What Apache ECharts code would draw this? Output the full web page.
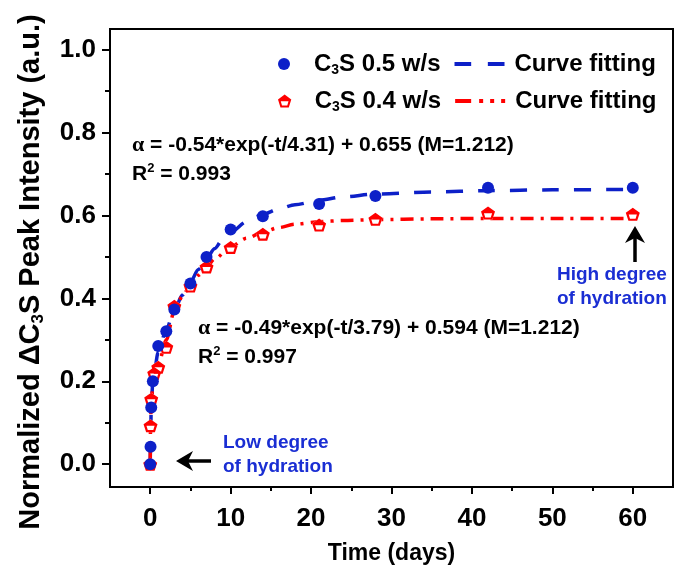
<!DOCTYPE html>
<html><head><meta charset="utf-8">
<script src="https://cdn.jsdelivr.net/npm/echarts@6/dist/echarts.min.js"></script>
<style>html,body{margin:0;padding:0;background:#fff}#c{width:699px;height:568px}</style>
</head><body><div id="c"></div>
<script>
// ---- data ----
const t05 = [0, 0.04, 0.125, 0.33, 1, 2, 3, 5, 7, 10, 14, 21, 28, 42, 60];
const v05 = [0, 0.042, 0.137, 0.2, 0.285, 0.321, 0.373, 0.436, 0.5, 0.566, 0.598, 0.628, 0.647, 0.667, 0.667];
const t04 = [0, 0.04, 0.125, 0.5, 1, 2, 3, 5, 7, 10, 14, 21, 28, 42, 60];
const v04 = [0, 0.093, 0.157, 0.219, 0.234, 0.282, 0.381, 0.43, 0.476, 0.523, 0.555, 0.577, 0.591, 0.606, 0.603];
// fitted curves
const fitT05 = [0, 0.04, 0.125, 0.33, 1, 2, 3, 4, 5, 6, 7, 8, 9, 10, 12, 14, 16, 18, 21, 24, 28, 35, 42, 50, 60];
const fit05  = [0, 0.042, 0.137, 0.2, 0.27, 0.325, 0.372, 0.408, 0.44, 0.47, 0.496, 0.52, 0.542, 0.56, 0.585, 0.603, 0.616, 0.626, 0.637, 0.645, 0.652, 0.657, 0.66, 0.662, 0.663];
const fitT04 = [0, 0.04, 0.125, 0.5, 1, 2, 3, 4, 5, 6, 7, 8, 10, 12, 14, 16, 18, 21, 24, 28, 35, 42, 50, 60];
const fit04  = [0, 0.093, 0.157, 0.219, 0.24, 0.3, 0.37, 0.405, 0.432, 0.456, 0.476, 0.495, 0.525, 0.545, 0.56, 0.571, 0.579, 0.585, 0.588, 0.59, 0.592, 0.593, 0.593, 0.593];
// ticks
const xMajor = [0, 10, 20, 30, 40, 50, 60];
const xMinor = [5, 15, 25, 35, 45, 55];
const yMajor = [0, 0.2, 0.4, 0.6, 0.8, 1.0];
const yMinor = [0.1, 0.3, 0.5, 0.7, 0.9];
// texts
const name05 = 'C3S 0.5 w/s', name04 = 'C3S 0.4 w/s';
const fitName05 = 'fit05', fitName04 = 'fit04';
const fitLabel = 'Curve fitting';
const xTitle = 'Time (days)';
const yTitle = ['Normalized ΔC', '3', 'S Peak Intensity (a.u.)'];
const eq05 = ['-0.54*exp(-t/4.31) + 0.655 (M=1.212)', '0.993'];
const eq04 = ['-0.49*exp(-t/3.79) + 0.594 (M=1.212)', '0.997'];
const noteLow = ['Low degree', 'of hydration'];
const noteHigh = ['High degree', 'of hydration'];

const BLUE = '#0d20c8', RED = '#ff0000', TBLUE = '#1a2ed3';
const FONT = 'Arial, "Liberation Sans", sans-serif';
const zip = (a, b) => a.map((v, i) => [v, b[i]]);
const PENT_RING = 'path://M50 2 L98 38 L80 96 L20 96 L2 38 Z M22 50 L31 81 L69 81 L78 50 Z';
const PENT_FULL = 'path://M50 2 L98 38 L80 96 L20 96 L2 38 Z';
const ICON_DASH = 'path://M0 0 H17 V4 H0 Z M34 0 H51 V4 H34 Z';
const ICON_DASHDOT = 'path://M0 0 H16 V4 H0 Z M24 0 H28 V4 H24 Z M35 0 H39 V4 H35 Z M46 0 H50 V4 H46 Z';

const chart = echarts.init(document.getElementById('c'), null, {renderer: 'canvas'});

function xAx(major) {
  return {
    type: 'value', min: -5, max: 65, position: 'bottom',
    axisLine: {show: major, onZero: false, lineStyle: {color: '#000', width: 2}},
    axisTick: {show: true, customValues: major ? xMajor : xMinor, length: major ? 7 : 4, lineStyle: {color: '#000', width: 2}},
    axisLabel: major ? {customValues: xMajor, fontSize: 26, fontWeight: 'bold', color: '#000', fontFamily: FONT, margin: 19} : {show: false},
    splitLine: {show: false},
    name: major ? xTitle : '', nameLocation: 'middle', nameGap: 55,
    nameTextStyle: {fontSize: 23, fontWeight: 'bold', color: '#000', fontFamily: FONT}
  };
}
function yAx(major) {
  return {
    type: 'value', min: -0.055, max: 1.05, position: 'left',
    axisLine: {show: major, onZero: false, lineStyle: {color: '#000', width: 2}},
    axisTick: {show: true, customValues: major ? yMajor : yMinor, length: major ? 8 : 5, lineStyle: {color: '#000', width: 2}},
    axisLabel: major ? {customValues: yMajor, fontSize: 26, fontWeight: 'bold', color: '#000', fontFamily: FONT, margin: 14,
      formatter: v => v.toFixed(1)} : {show: false},
    splitLine: {show: false}
  };
}

const legendText = {
  fontSize: 24, fontWeight: 'bold', color: '#000', fontFamily: FONT,
  rich: {n: {fontSize: 24, fontWeight: 'bold', fontFamily: FONT, color: '#000', lineHeight: 26},
         f: {fontSize: 24, fontWeight: 'bold', fontFamily: FONT, color: '#000', lineHeight: 26, padding: [0, 0, 0, 5]},
         s: {fontSize: 14, fontWeight: 'bold', fontFamily: FONT, color: '#000', lineHeight: 14, verticalAlign: 'bottom'}}
};
const legendFmt = n => n.startsWith('fit') ? '{f|' + fitLabel + '}' : '{n|C}{s|3}{n|S ' + n.slice(4) + '}';

function eqText(x, y, lines) {
  const base = {fontSize: 21, fontWeight: 'bold', fontFamily: FONT, fill: '#000'};
  return [
    {type: 'text', x: x, y: y, silent: true, style: Object.assign({}, base, {
      text: '{g|α}{n| = ' + lines[0] + '}', verticalAlign: 'middle',
      rich: {g: {fontSize: 22, fontWeight: 'bold', fontFamily: '"Liberation Serif", "DejaVu Serif", serif', lineHeight: 24},
             n: {fontSize: 21, fontWeight: 'bold', fontFamily: FONT, lineHeight: 24}}})},
    {type: 'text', x: x, y: y + 29, silent: true, style: Object.assign({}, base, {
      text: '{n|R}{p|2}{n| = ' + lines[1] + '}', verticalAlign: 'middle',
      rich: {n: {fontSize: 21, fontWeight: 'bold', fontFamily: FONT, lineHeight: 24},
             p: {fontSize: 13, fontWeight: 'bold', fontFamily: FONT, lineHeight: 14, verticalAlign: 'top'}}})}
  ];
}
function noteText(x, y, lines) {
  return lines.map((s, i) => ({type: 'text', x: x, y: y + i * 24, silent: true,
    style: {text: s, fontSize: 19, fontWeight: 'bold', fontFamily: FONT, fill: TBLUE, verticalAlign: 'middle'}}));
}

const option = {
  animation: false,
  backgroundColor: '#fff',
  grid: {left: 110, right: 26, top: 29, bottom: 81, show: true, borderColor: '#000', borderWidth: 2,
         backgroundColor: 'transparent', outerBoundsMode: 'none'},
  xAxis: [xAx(true), xAx(false)],
  yAxis: [yAx(true), yAx(false)],
  legend: [
    {data: [name05, {name: fitName05, icon: ICON_DASH}], left: 273, top: 47, itemWidth: 50, itemHeight: 12, itemGap: 14,
     selectedMode: false, formatter: legendFmt, textStyle: legendText},
    {data: [name04, {name: fitName04, icon: ICON_DASHDOT}], left: 273, top: 84, itemWidth: 50, itemHeight: 13, itemGap: 14,
     selectedMode: false, formatter: legendFmt, textStyle: legendText}
  ],
  series: [
    {name: fitName05, type: 'line', data: zip(fitT05, fit05), symbol: 'none', smooth: 0.3, smoothMonotone: 'x',
     lineStyle: {color: BLUE, width: 3.5, type: [17, 15]}, itemStyle: {color: BLUE}, z: 2},
    {name: fitName04, type: 'line', data: zip(fitT04, fit04), symbol: 'none', smooth: 0.3, smoothMonotone: 'x',
     lineStyle: {color: RED, width: 3.5, type: [13, 7, 3, 7]}, itemStyle: {color: RED}, z: 2},
    {name: '_under04', type: 'scatter', data: zip(t04, v04), symbol: PENT_FULL, symbolSize: [14, 13],
     itemStyle: {color: '#fff', opacity: 1}, silent: true, z: 3},
    {name: name04, type: 'scatter', data: zip(t04, v04), symbol: PENT_RING, symbolSize: [14, 13],
     itemStyle: {color: RED, opacity: 1}, z: 4},
    {name: name05, type: 'scatter', data: zip(t05, v05), symbol: 'circle', symbolSize: 12,
     itemStyle: {color: BLUE, opacity: 1}, z: 5}
  ],
  graphic: [].concat(
    [{type: 'text', x: 31, y: 272, rotation: Math.PI / 2, silent: true, style: {
      text: '{a|' + yTitle[0] + '}{s|' + yTitle[1] + '}{a|' + yTitle[2] + '}',
      align: 'center', verticalAlign: 'middle', fontSize: 29, fontWeight: 'bold', fontFamily: FONT, fill: '#000',
      rich: {a: {fontSize: 29, fontWeight: 'bold', fontFamily: FONT, lineHeight: 32},
             s: {fontSize: 17, fontWeight: 'bold', fontFamily: FONT, lineHeight: 17, verticalAlign: 'bottom'}}}}],
    eqText(132, 145, eq05),
    eqText(198, 328, eq04),
    noteText(223, 443, noteLow),
    noteText(557, 275, noteHigh),
    [
      {type: 'polygon', silent: true, shape: {points: [[176, 461], [193, 451], [188, 461], [193, 471]]}, style: {fill: '#000'}},
      {type: 'line', silent: true, shape: {x1: 188, y1: 461, x2: 211, y2: 461}, style: {stroke: '#000', lineWidth: 3.5}},
      {type: 'polygon', silent: true, shape: {points: [[635, 226], [625, 243], [635, 238], [645, 243]]}, style: {fill: '#000'}},
      {type: 'line', silent: true, shape: {x1: 635, y1: 238, x2: 635, y2: 262}, style: {stroke: '#000', lineWidth: 3.5}}
    ]
  )
};
chart.setOption(option);
</script></body></html>
